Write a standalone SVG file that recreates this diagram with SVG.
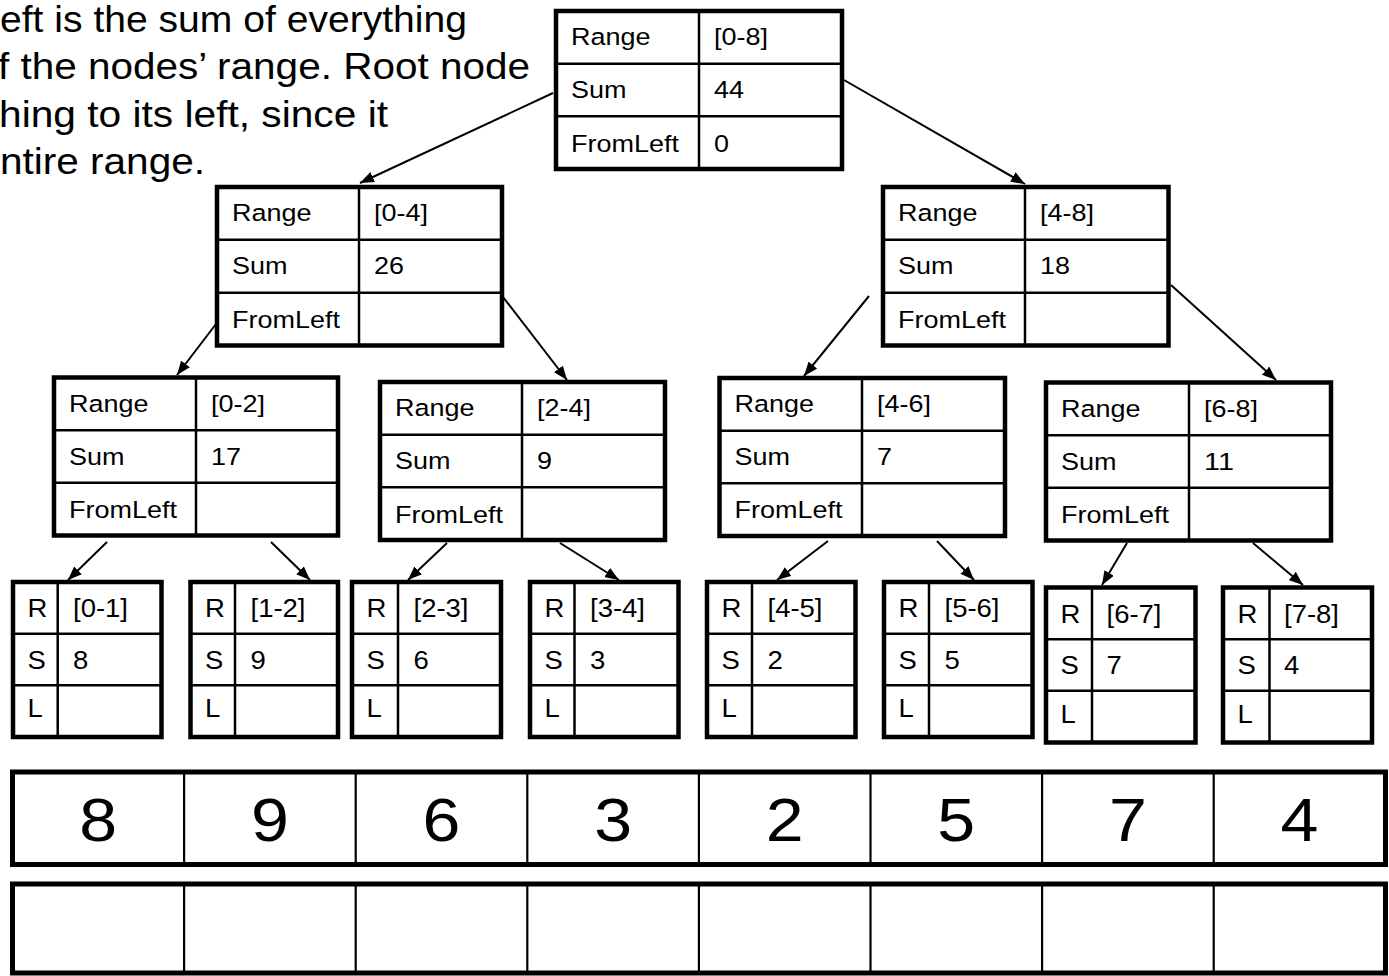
<svg xmlns="http://www.w3.org/2000/svg" width="1389" height="976" viewBox="0 0 1389 976">
<defs>
<marker id="arrow" markerUnits="userSpaceOnUse" markerWidth="14" markerHeight="11" refX="14" refY="5.5" orient="auto">
<path d="M0,0 L14,5.5 L0,11 z" fill="#000"/>
</marker>
<style>
.box{fill:none;stroke:#000;stroke-width:4.5}
.grid{stroke:#000;stroke-width:2.5}
.abox{fill:none;stroke:#000;stroke-width:5}
.agrid{stroke:#000;stroke-width:2.2}
text{font-family:"Liberation Sans",Arial,sans-serif;fill:#000}
.t{font-size:24.5px}
.lf{font-size:25px}
.big{font-size:62px;text-anchor:middle}
.note{font-size:37px}
.conn line{stroke:#000;stroke-width:2;marker-end:url(#arrow)}
</style>
</defs>
<rect x="0" y="0" width="1389" height="976" fill="#fff"/>

<g id="note">
<text class="note" x="0" y="31.5" textLength="467" lengthAdjust="spacingAndGlyphs">eft is the sum of everything</text>
<text class="note" x="-2" y="79" textLength="532" lengthAdjust="spacingAndGlyphs">f the nodes’ range. Root node</text>
<text class="note" x="-1" y="126.5" textLength="389" lengthAdjust="spacingAndGlyphs">hing to its left, since it</text>
<text class="note" x="0" y="174" textLength="205" lengthAdjust="spacingAndGlyphs">ntire range.</text>
</g>

<g id="connectors" class="conn">
<line x1="553" y1="93" x2="360" y2="183"/>
<line x1="844" y1="80" x2="1025" y2="184"/>
<line x1="216" y1="324" x2="177" y2="375"/>
<line x1="503" y1="297" x2="567" y2="380"/>
<line x1="869" y1="296" x2="804" y2="376"/>
<line x1="1171" y1="285" x2="1276" y2="380"/>
<line x1="107" y1="542" x2="68" y2="580"/>
<line x1="271" y1="542" x2="310" y2="580"/>
<line x1="447" y1="543" x2="408" y2="580"/>
<line x1="560" y1="543" x2="619" y2="580"/>
<line x1="828" y1="541" x2="777" y2="580"/>
<line x1="937" y1="541" x2="974" y2="580"/>
<line x1="1127" y1="543" x2="1102" y2="585"/>
<line x1="1253" y1="543" x2="1303" y2="585"/>
</g>

<g id="node-0-8">
<line class="grid" x1="699" y1="11" x2="699" y2="169"/>
<line class="grid" x1="556" y1="63.7" x2="842" y2="63.7"/>
<line class="grid" x1="556" y1="116.3" x2="842" y2="116.3"/>
<rect class="box" x="556" y="11" width="286" height="158"/>
<text class="t" x="571" y="45" textLength="79.5" lengthAdjust="spacingAndGlyphs">Range</text>
<text class="t" x="571" y="98" textLength="55.5" lengthAdjust="spacingAndGlyphs">Sum</text>
<text class="t" x="571" y="151.5" textLength="108" lengthAdjust="spacingAndGlyphs">FromLeft</text>
<text class="t" x="714" y="45" textLength="54" lengthAdjust="spacingAndGlyphs">[0-8]</text>
<text class="t" x="714" y="98" textLength="30" lengthAdjust="spacingAndGlyphs">44</text>
<text class="t" x="714" y="151.5" textLength="15" lengthAdjust="spacingAndGlyphs">0</text>
</g>

<g id="node-0-4">
<line class="grid" x1="359" y1="187" x2="359" y2="345.5"/>
<line class="grid" x1="217" y1="239.8" x2="502" y2="239.8"/>
<line class="grid" x1="217" y1="292.7" x2="502" y2="292.7"/>
<rect class="box" x="217" y="187" width="285" height="158.5"/>
<text class="t" x="232" y="221" textLength="79.5" lengthAdjust="spacingAndGlyphs">Range</text>
<text class="t" x="232" y="274" textLength="55.5" lengthAdjust="spacingAndGlyphs">Sum</text>
<text class="t" x="232" y="327.5" textLength="108" lengthAdjust="spacingAndGlyphs">FromLeft</text>
<text class="t" x="374" y="221" textLength="54" lengthAdjust="spacingAndGlyphs">[0-4]</text>
<text class="t" x="374" y="274" textLength="30" lengthAdjust="spacingAndGlyphs">26</text>
</g>

<g id="node-4-8">
<line class="grid" x1="1025" y1="187" x2="1025" y2="345.5"/>
<line class="grid" x1="883" y1="239.8" x2="1168.5" y2="239.8"/>
<line class="grid" x1="883" y1="292.7" x2="1168.5" y2="292.7"/>
<rect class="box" x="883" y="187" width="285.5" height="158.5"/>
<text class="t" x="898" y="221" textLength="79.5" lengthAdjust="spacingAndGlyphs">Range</text>
<text class="t" x="898" y="274" textLength="55.5" lengthAdjust="spacingAndGlyphs">Sum</text>
<text class="t" x="898" y="327.5" textLength="108" lengthAdjust="spacingAndGlyphs">FromLeft</text>
<text class="t" x="1040" y="221" textLength="54" lengthAdjust="spacingAndGlyphs">[4-8]</text>
<text class="t" x="1040" y="274" textLength="30" lengthAdjust="spacingAndGlyphs">18</text>
</g>

<g id="node-0-2">
<line class="grid" x1="196" y1="377.5" x2="196" y2="535.5"/>
<line class="grid" x1="54" y1="430.2" x2="338" y2="430.2"/>
<line class="grid" x1="54" y1="482.8" x2="338" y2="482.8"/>
<rect class="box" x="54" y="377.5" width="284" height="158"/>
<text class="t" x="69" y="411.5" textLength="79.5" lengthAdjust="spacingAndGlyphs">Range</text>
<text class="t" x="69" y="464.5" textLength="55.5" lengthAdjust="spacingAndGlyphs">Sum</text>
<text class="t" x="69" y="518" textLength="108" lengthAdjust="spacingAndGlyphs">FromLeft</text>
<text class="t" x="211" y="411.5" textLength="54" lengthAdjust="spacingAndGlyphs">[0-2]</text>
<text class="t" x="211" y="464.5" textLength="30" lengthAdjust="spacingAndGlyphs">17</text>
</g>

<g id="node-2-4">
<line class="grid" x1="522" y1="382" x2="522" y2="540"/>
<line class="grid" x1="380" y1="434.7" x2="665" y2="434.7"/>
<line class="grid" x1="380" y1="487.3" x2="665" y2="487.3"/>
<rect class="box" x="380" y="382" width="285" height="158"/>
<text class="t" x="395" y="416" textLength="79.5" lengthAdjust="spacingAndGlyphs">Range</text>
<text class="t" x="395" y="469" textLength="55.5" lengthAdjust="spacingAndGlyphs">Sum</text>
<text class="t" x="395" y="522.5" textLength="108" lengthAdjust="spacingAndGlyphs">FromLeft</text>
<text class="t" x="537" y="416" textLength="54" lengthAdjust="spacingAndGlyphs">[2-4]</text>
<text class="t" x="537" y="469" textLength="15" lengthAdjust="spacingAndGlyphs">9</text>
</g>

<g id="node-4-6">
<line class="grid" x1="862" y1="378" x2="862" y2="536"/>
<line class="grid" x1="719.5" y1="430.7" x2="1005" y2="430.7"/>
<line class="grid" x1="719.5" y1="483.3" x2="1005" y2="483.3"/>
<rect class="box" x="719.5" y="378" width="285.5" height="158"/>
<text class="t" x="734.5" y="411.5" textLength="79.5" lengthAdjust="spacingAndGlyphs">Range</text>
<text class="t" x="734.5" y="464.5" textLength="55.5" lengthAdjust="spacingAndGlyphs">Sum</text>
<text class="t" x="734.5" y="518" textLength="108" lengthAdjust="spacingAndGlyphs">FromLeft</text>
<text class="t" x="877" y="411.5" textLength="54" lengthAdjust="spacingAndGlyphs">[4-6]</text>
<text class="t" x="877" y="464.5" textLength="15" lengthAdjust="spacingAndGlyphs">7</text>
</g>

<g id="node-6-8">
<line class="grid" x1="1189" y1="382.5" x2="1189" y2="540.5"/>
<line class="grid" x1="1046" y1="435.2" x2="1331" y2="435.2"/>
<line class="grid" x1="1046" y1="487.8" x2="1331" y2="487.8"/>
<rect class="box" x="1046" y="382.5" width="285" height="158"/>
<text class="t" x="1061" y="416.5" textLength="79.5" lengthAdjust="spacingAndGlyphs">Range</text>
<text class="t" x="1061" y="469.5" textLength="55.5" lengthAdjust="spacingAndGlyphs">Sum</text>
<text class="t" x="1061" y="523" textLength="108" lengthAdjust="spacingAndGlyphs">FromLeft</text>
<text class="t" x="1204" y="416.5" textLength="54" lengthAdjust="spacingAndGlyphs">[6-8]</text>
<text class="t" x="1204" y="469.5" textLength="30" lengthAdjust="spacingAndGlyphs">11</text>
</g>

<g id="leaf-0-1">
<line class="grid" x1="57.7" y1="582" x2="57.7" y2="737"/>
<line class="grid" x1="13" y1="633.7" x2="161.5" y2="633.7"/>
<line class="grid" x1="13" y1="685.3" x2="161.5" y2="685.3"/>
<rect class="box" x="13" y="582" width="148.5" height="155"/>
<text class="lf" x="27.5" y="617" textLength="19.9" lengthAdjust="spacingAndGlyphs">R</text>
<text class="lf" x="27.5" y="668.5" textLength="18.3" lengthAdjust="spacingAndGlyphs">S</text>
<text class="lf" x="27.5" y="717" textLength="15.3" lengthAdjust="spacingAndGlyphs">L</text>
<text class="lf" x="73" y="617" textLength="55" lengthAdjust="spacingAndGlyphs">[0-1]</text>
<text class="lf" x="73" y="668.5" textLength="15.3" lengthAdjust="spacingAndGlyphs">8</text>
</g>

<g id="leaf-1-2">
<line class="grid" x1="235" y1="582" x2="235" y2="737"/>
<line class="grid" x1="190.5" y1="633.7" x2="338" y2="633.7"/>
<line class="grid" x1="190.5" y1="685.3" x2="338" y2="685.3"/>
<rect class="box" x="190.5" y="582" width="147.5" height="155"/>
<text class="lf" x="205" y="617" textLength="19.9" lengthAdjust="spacingAndGlyphs">R</text>
<text class="lf" x="205" y="668.5" textLength="18.3" lengthAdjust="spacingAndGlyphs">S</text>
<text class="lf" x="205" y="717" textLength="15.3" lengthAdjust="spacingAndGlyphs">L</text>
<text class="lf" x="250.5" y="617" textLength="55" lengthAdjust="spacingAndGlyphs">[1-2]</text>
<text class="lf" x="250.5" y="668.5" textLength="15.3" lengthAdjust="spacingAndGlyphs">9</text>
</g>

<g id="leaf-2-3">
<line class="grid" x1="398" y1="582" x2="398" y2="737"/>
<line class="grid" x1="352" y1="633.7" x2="501" y2="633.7"/>
<line class="grid" x1="352" y1="685.3" x2="501" y2="685.3"/>
<rect class="box" x="352" y="582" width="149" height="155"/>
<text class="lf" x="366.5" y="617" textLength="19.9" lengthAdjust="spacingAndGlyphs">R</text>
<text class="lf" x="366.5" y="668.5" textLength="18.3" lengthAdjust="spacingAndGlyphs">S</text>
<text class="lf" x="366.5" y="717" textLength="15.3" lengthAdjust="spacingAndGlyphs">L</text>
<text class="lf" x="413.5" y="617" textLength="55" lengthAdjust="spacingAndGlyphs">[2-3]</text>
<text class="lf" x="413.5" y="668.5" textLength="15.3" lengthAdjust="spacingAndGlyphs">6</text>
</g>

<g id="leaf-3-4">
<line class="grid" x1="574.5" y1="582" x2="574.5" y2="737"/>
<line class="grid" x1="530" y1="633.7" x2="678.5" y2="633.7"/>
<line class="grid" x1="530" y1="685.3" x2="678.5" y2="685.3"/>
<rect class="box" x="530" y="582" width="148.5" height="155"/>
<text class="lf" x="544.5" y="617" textLength="19.9" lengthAdjust="spacingAndGlyphs">R</text>
<text class="lf" x="544.5" y="668.5" textLength="18.3" lengthAdjust="spacingAndGlyphs">S</text>
<text class="lf" x="544.5" y="717" textLength="15.3" lengthAdjust="spacingAndGlyphs">L</text>
<text class="lf" x="590" y="617" textLength="55" lengthAdjust="spacingAndGlyphs">[3-4]</text>
<text class="lf" x="590" y="668.5" textLength="15.3" lengthAdjust="spacingAndGlyphs">3</text>
</g>

<g id="leaf-4-5">
<line class="grid" x1="752" y1="582" x2="752" y2="737"/>
<line class="grid" x1="707" y1="633.7" x2="855.5" y2="633.7"/>
<line class="grid" x1="707" y1="685.3" x2="855.5" y2="685.3"/>
<rect class="box" x="707" y="582" width="148.5" height="155"/>
<text class="lf" x="721.5" y="617" textLength="19.9" lengthAdjust="spacingAndGlyphs">R</text>
<text class="lf" x="721.5" y="668.5" textLength="18.3" lengthAdjust="spacingAndGlyphs">S</text>
<text class="lf" x="721.5" y="717" textLength="15.3" lengthAdjust="spacingAndGlyphs">L</text>
<text class="lf" x="767.5" y="617" textLength="55" lengthAdjust="spacingAndGlyphs">[4-5]</text>
<text class="lf" x="767.5" y="668.5" textLength="15.3" lengthAdjust="spacingAndGlyphs">2</text>
</g>

<g id="leaf-5-6">
<line class="grid" x1="929" y1="582" x2="929" y2="737"/>
<line class="grid" x1="884" y1="633.7" x2="1032.5" y2="633.7"/>
<line class="grid" x1="884" y1="685.3" x2="1032.5" y2="685.3"/>
<rect class="box" x="884" y="582" width="148.5" height="155"/>
<text class="lf" x="898.5" y="617" textLength="19.9" lengthAdjust="spacingAndGlyphs">R</text>
<text class="lf" x="898.5" y="668.5" textLength="18.3" lengthAdjust="spacingAndGlyphs">S</text>
<text class="lf" x="898.5" y="717" textLength="15.3" lengthAdjust="spacingAndGlyphs">L</text>
<text class="lf" x="944.5" y="617" textLength="55" lengthAdjust="spacingAndGlyphs">[5-6]</text>
<text class="lf" x="944.5" y="668.5" textLength="15.3" lengthAdjust="spacingAndGlyphs">5</text>
</g>

<g id="leaf-6-7">
<line class="grid" x1="1092" y1="587.5" x2="1092" y2="742.5"/>
<line class="grid" x1="1046" y1="639.2" x2="1195.5" y2="639.2"/>
<line class="grid" x1="1046" y1="690.8" x2="1195.5" y2="690.8"/>
<rect class="box" x="1046" y="587.5" width="149.5" height="155"/>
<text class="lf" x="1060.5" y="622.5" textLength="19.9" lengthAdjust="spacingAndGlyphs">R</text>
<text class="lf" x="1060.5" y="674" textLength="18.3" lengthAdjust="spacingAndGlyphs">S</text>
<text class="lf" x="1060.5" y="722.5" textLength="15.3" lengthAdjust="spacingAndGlyphs">L</text>
<text class="lf" x="1106.5" y="622.5" textLength="55" lengthAdjust="spacingAndGlyphs">[6-7]</text>
<text class="lf" x="1106.5" y="674" textLength="15.3" lengthAdjust="spacingAndGlyphs">7</text>
</g>

<g id="leaf-7-8">
<line class="grid" x1="1269.5" y1="587.5" x2="1269.5" y2="742.5"/>
<line class="grid" x1="1223" y1="639.2" x2="1372" y2="639.2"/>
<line class="grid" x1="1223" y1="690.8" x2="1372" y2="690.8"/>
<rect class="box" x="1223" y="587.5" width="149" height="155"/>
<text class="lf" x="1237.5" y="622.5" textLength="19.9" lengthAdjust="spacingAndGlyphs">R</text>
<text class="lf" x="1237.5" y="674" textLength="18.3" lengthAdjust="spacingAndGlyphs">S</text>
<text class="lf" x="1237.5" y="722.5" textLength="15.3" lengthAdjust="spacingAndGlyphs">L</text>
<text class="lf" x="1284" y="622.5" textLength="55" lengthAdjust="spacingAndGlyphs">[7-8]</text>
<text class="lf" x="1284" y="674" textLength="15.3" lengthAdjust="spacingAndGlyphs">4</text>
</g>

<g id="array-values">
<line class="agrid" x1="184.1" y1="772" x2="184.1" y2="864.5"/>
<line class="agrid" x1="355.7" y1="772" x2="355.7" y2="864.5"/>
<line class="agrid" x1="527.3" y1="772" x2="527.3" y2="864.5"/>
<line class="agrid" x1="698.9" y1="772" x2="698.9" y2="864.5"/>
<line class="agrid" x1="870.5" y1="772" x2="870.5" y2="864.5"/>
<line class="agrid" x1="1042.1" y1="772" x2="1042.1" y2="864.5"/>
<line class="agrid" x1="1213.7" y1="772" x2="1213.7" y2="864.5"/>
<rect class="abox" x="12.5" y="772" width="1373" height="92.5"/>
<text class="big" x="98.3" y="841" textLength="37.9" lengthAdjust="spacingAndGlyphs">8</text>
<text class="big" x="269.9" y="841" textLength="37.9" lengthAdjust="spacingAndGlyphs">9</text>
<text class="big" x="441.5" y="841" textLength="37.9" lengthAdjust="spacingAndGlyphs">6</text>
<text class="big" x="613.1" y="841" textLength="37.9" lengthAdjust="spacingAndGlyphs">3</text>
<text class="big" x="784.7" y="841" textLength="37.9" lengthAdjust="spacingAndGlyphs">2</text>
<text class="big" x="956.3" y="841" textLength="37.9" lengthAdjust="spacingAndGlyphs">5</text>
<text class="big" x="1127.9" y="841" textLength="37.9" lengthAdjust="spacingAndGlyphs">7</text>
<text class="big" x="1299.5" y="841" textLength="37.9" lengthAdjust="spacingAndGlyphs">4</text>
</g>

<g id="array-result">
<line class="agrid" x1="184.1" y1="884" x2="184.1" y2="973"/>
<line class="agrid" x1="355.7" y1="884" x2="355.7" y2="973"/>
<line class="agrid" x1="527.3" y1="884" x2="527.3" y2="973"/>
<line class="agrid" x1="698.9" y1="884" x2="698.9" y2="973"/>
<line class="agrid" x1="870.5" y1="884" x2="870.5" y2="973"/>
<line class="agrid" x1="1042.1" y1="884" x2="1042.1" y2="973"/>
<line class="agrid" x1="1213.7" y1="884" x2="1213.7" y2="973"/>
<rect class="abox" x="12.5" y="884" width="1373" height="89"/>
</g>
</svg>
